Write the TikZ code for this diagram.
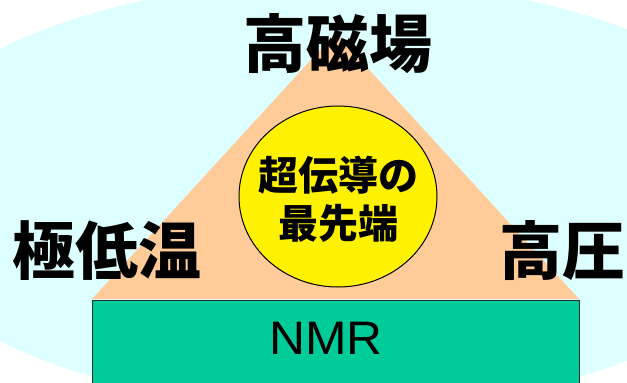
\documentclass[tikz,border=0pt]{standalone}
\usepackage{fontspec}
\setsansfont{Liberation Sans}
\newfontfamily\jp{Noto Sans CJK JP}
\usetikzlibrary{shapes.geometric}
\definecolor{bgcyan}{RGB}{222,255,255}
\definecolor{peach}{RGB}{255,204,153}
\definecolor{nmrgreen}{RGB}{0,204,153}
\definecolor{edgedark}{RGB}{30,50,50}
\tikzset{
  biglabel/.style={inner sep=0pt, font=\jp\bfseries\fontsize{63}{70}\selectfont},
  corelabel/.style={inner sep=0pt, align=center, font=\jp\bfseries\fontsize{40}{48}\selectfont},
  corebox/.style={draw=black, line width=1pt, fill=yellow, ellipse, inner sep=0pt, minimum width=198pt, minimum height=181pt},
  basebox/.style={draw=edgedark, line width=1pt, fill=nmrgreen, inner sep=0pt, minimum width=487pt, minimum height=110pt, anchor=north west},
  baselabel/.style={inner sep=0pt, xscale=1.06, font=\sffamily\fontsize{47}{50}\selectfont}
}
\begin{document}
\begin{tikzpicture}[x=1pt,y=-1pt]
\useasboundingbox (0,0) rectangle (627,383);
\clip (0,0) rectangle (627,383);
\fill[bgcyan] (336,195) ellipse [x radius=460, y radius=214];
\coordinate (apex) at (335.5,33);
\coordinate (bl) at (92,299);
\coordinate (br) at (579,299);
\fill[peach] (apex) -- (bl) -- (br) -- cycle;
\node[corebox] (core) at (338,196.5) {};
\node[corelabel] (coretext) at (338,199) {超伝導の\\最先端};
\node[basebox] (base) at (92,300) {};
\node[baselabel] (nmr) at (326,338) {NMR};
\node[biglabel] (field) at (338,44) {高磁場};
\node[biglabel] (cold) at (107,251) {極低温};
\node[biglabel] (press) at (562,251) {高圧};
\end{tikzpicture}
\end{document}
